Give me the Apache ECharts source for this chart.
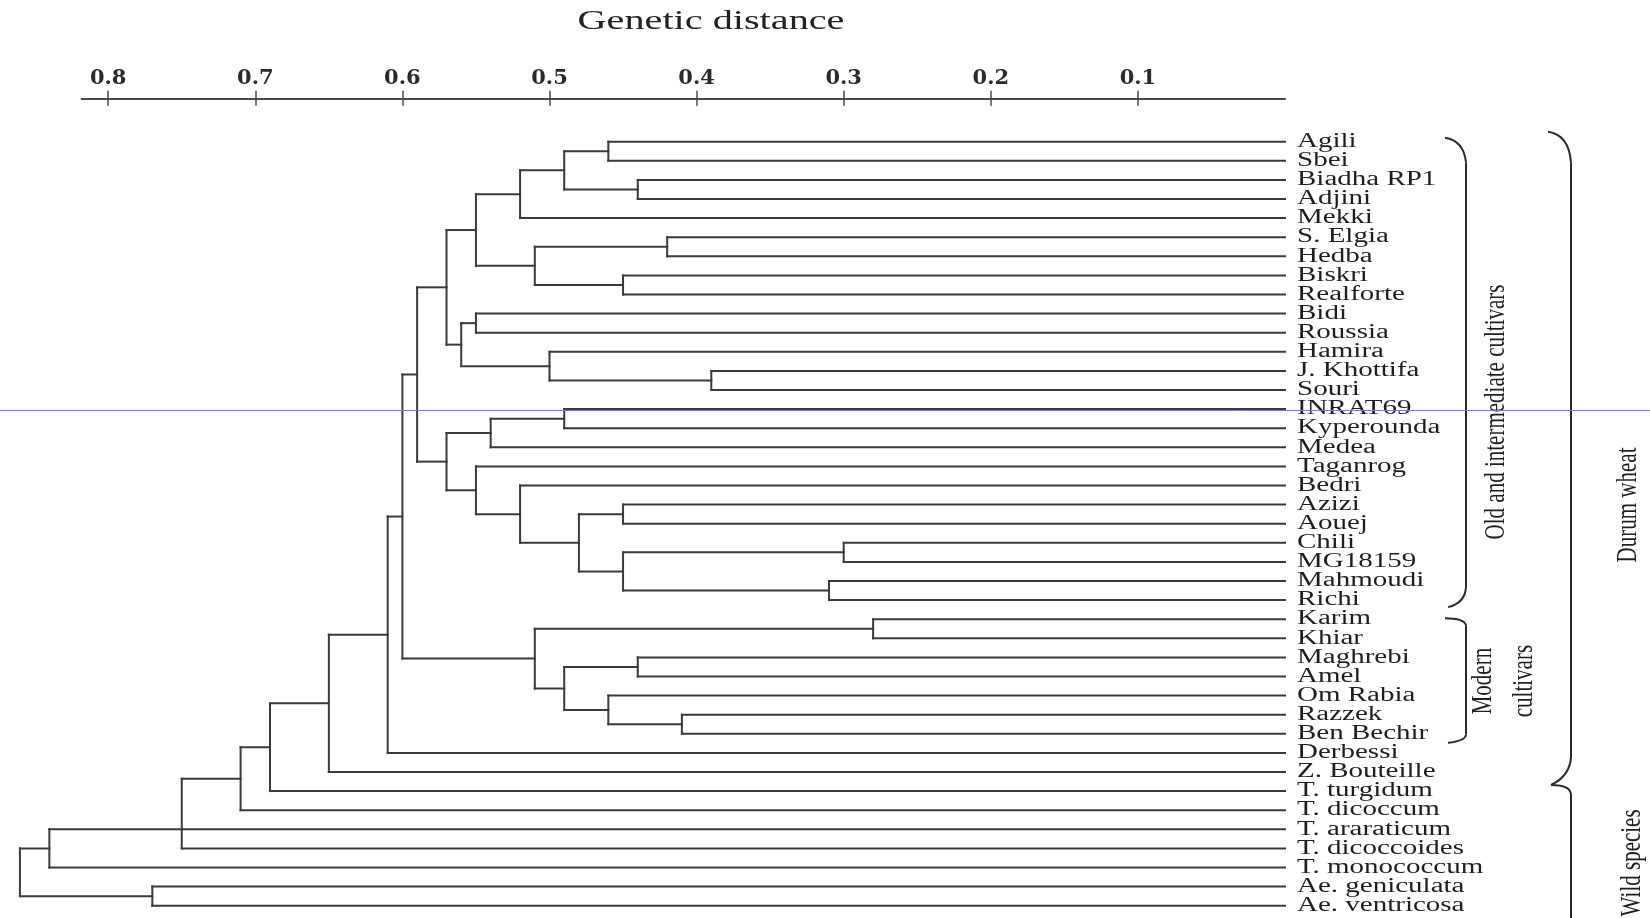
<!DOCTYPE html>
<html><head><meta charset="utf-8">
<script src="https://cdn.jsdelivr.net/npm/echarts@6/dist/echarts.min.js"></script>
<style>html,body{margin:0;padding:0;background:#fff}#c{width:1650px;height:918px}</style>
</head><body><div id="c"></div>
<script>
// ---------------- data ----------------
const axisTitle = 'Genetic distance';
const tickValues = [0.1, 0.2, 0.3, 0.4, 0.5, 0.6, 0.7, 0.8];
const leaves = ['Agili','Sbei','Biadha RP1','Adjini','Mekki','S. Elgia','Hedba','Biskri','Realforte','Bidi','Roussia','Hamira','J. Khottifa','Souri','INRAT69','Kyperounda','Medea','Taganrog','Bedri','Azizi','Aouej','Chili','MG18159','Mahmoudi','Richi','Karim','Khiar','Maghrebi','Amel','Om Rabia','Razzek','Ben Bechir','Derbessi','Z. Bouteille','T. turgidum','T. dicoccum','T. araraticum','T. dicoccoides','T. monococcum','Ae. geniculata','Ae. ventricosa'];
// merge i creates node "n<i>" from its children at distance mergeHeights[i]
const mergeChildren = [
  ['Agili','Sbei'], ['Biadha RP1','Adjini'], ['n0','n1'], ['n2','Mekki'],
  ['S. Elgia','Hedba'], ['Biskri','Realforte'], ['n4','n5'], ['n3','n6'],
  ['Bidi','Roussia'], ['J. Khottifa','Souri'], ['Hamira','n9'], ['n8','n10'],
  ['n7','n11'], ['INRAT69','Kyperounda'], ['n13','Medea'], ['Azizi','Aouej'],
  ['Chili','MG18159'], ['Mahmoudi','Richi'], ['n16','n17'], ['n15','n18'],
  ['Bedri','n19'], ['Taganrog','n20'], ['n14','n21'], ['n12','n22'],
  ['Karim','Khiar'], ['Maghrebi','Amel'], ['Razzek','Ben Bechir'], ['Om Rabia','n26'],
  ['n25','n27'], ['n24','n28'], ['n23','n29'], ['n30','Derbessi'],
  ['n31','Z. Bouteille'], ['n32','T. turgidum'], ['n33','T. dicoccum'],
  ['n34','T. araraticum','T. dicoccoides'], ['n35','T. monococcum'],
  ['Ae. geniculata','Ae. ventricosa'], ['n36','n37']
];
const mergeHeights = [0.46,0.44,0.49,0.52,0.42,0.45,0.51,0.55,0.55,0.39,0.50,0.56,0.57,0.49,0.54,0.45,0.30,0.31,0.45,0.48,0.52,0.55,0.57,0.59,0.28,0.44,0.41,0.46,0.49,0.51,0.60,0.61,0.65,0.69,0.71,0.75,0.84,0.77,0.86];
const groupLabels = ['Old and intermediate cultivars', 'Modern\ncultivars', 'Durum wheat', 'Wild species'];

// ---------------- tree geometry (data units) ----------------
const leafIndex = {};
leaves.forEach((n, i) => { leafIndex[n] = i; });
const nodeX = [], nodeY = [];
function posOf(id) {
  const m = /^n(\d+)$/.exec(id);
  if (m) { const k = +m[1]; return [nodeX[k], nodeY[k]]; }
  return [0, leafIndex[id]];
}
const segments = [];
mergeChildren.forEach((ch, i) => {
  const h = mergeHeights[i];
  const ps = ch.map(posOf);
  const ys = ps.map(p => p[1]).sort((a, b) => a - b);
  const y = ys.length % 2 === 1 ? ys[(ys.length - 1) / 2] : (ys[0] + ys[ys.length - 1]) / 2;
  nodeX[i] = h; nodeY[i] = y;
  segments.push([h, ys[0], h, ys[ys.length - 1]]);
  ps.forEach(p => segments.push([p[0], p[1], h, p[1]]));
});

// ---------------- chart ----------------
const LINE = '#3a3a3a';
const SERIF = '"Liberation Serif", "Times New Roman", serif';
const chart = echarts.init(document.getElementById('c'), null, { renderer: 'canvas' });

const option = {
  animation: false,
  backgroundColor: '#ffffff',
  grid: [
    { left: 81.7, right: 365, top: 97.7, height: 1 },
    { left: 5.23, right: 365, top: 141.7, height: 764 }
  ],
  xAxis: [
    { gridIndex: 0, type: 'value', inverse: true, min: 0, max: 0.818, position: 'top',
      axisLine: { show: true, lineStyle: { color: '#4a4a4a', width: 2 } },
      axisTick: { show: true, length: 8, customValues: tickValues, lineStyle: { color: '#4a4a4a', width: 1.5 } },
      axisLabel: { show: true, customValues: tickValues, margin: 9, fontFamily: 'DejaVu Serif', fontWeight: 'bold', fontSize: 21, color: '#2a2a2a',
        formatter: v => (+v).toFixed(1) },
      splitLine: { show: false } },
    { gridIndex: 0, type: 'value', inverse: true, min: 0, max: 0.818, position: 'bottom',
      axisLine: { show: false },
      axisTick: { show: true, length: 7, customValues: tickValues, lineStyle: { color: '#4a4a4a', width: 1.5 } },
      axisLabel: { show: false }, splitLine: { show: false } },
    { gridIndex: 1, type: 'value', inverse: true, min: 0, max: 0.87, show: false }
  ],
  yAxis: [
    { gridIndex: 0, type: 'value', show: false },
    { gridIndex: 1, type: 'value', inverse: true, min: 0, max: leaves.length - 1, show: false }
  ],
  graphic: [
    { type: 'text', x: 711, y: 21.6, scaleX: 1.49,
      style: { text: axisTitle, font: '27px ' + SERIF, fill: '#222', align: 'center', verticalAlign: 'middle' } },
    { type: 'line', shape: { x1: 0, y1: 410.5, x2: 1650, y2: 410.5 }, style: { stroke: '#7a7ae6', lineWidth: 1 }, z: 100 }
  ],
  series: [
    { type: 'custom', name: 'tree', xAxisIndex: 2, yAxisIndex: 1, data: segments,
      encode: { x: [0, 2], y: [1, 3] },
      renderItem: (params, api) => {
        const a = api.coord([api.value(0), api.value(1)]);
        const b = api.coord([api.value(2), api.value(3)]);
        return { type: 'line', shape: { x1: a[0], y1: a[1], x2: b[0], y2: b[1] },
          style: { stroke: LINE, lineWidth: 2, lineCap: 'square', fill: 'none' } };
      } },
    { type: 'custom', name: 'leaves', xAxisIndex: 2, yAxisIndex: 1,
      data: leaves.map((n, i) => [0, i]),
      renderItem: (params, api) => {
        const p = api.coord([api.value(0), api.value(1)]);
        return { type: 'text', x: p[0] + 12, y: p[1], scaleX: 1.45,
          style: { text: leaves[params.dataIndex], font: '20px ' + SERIF, fill: '#1e1e1e', align: 'left', verticalAlign: 'middle' } };
      } },
    { type: 'custom', name: 'groups', xAxisIndex: 2, yAxisIndex: 1,
      data: [[0, 0]],
      renderItem: (params, api) => {
        const x0 = api.coord([0, 0])[0];
        const yOf = i => api.coord([0, i])[1];
        const bx = x0 + 181, gx = x0 + 286;
        const st = { stroke: '#2a2a2a', lineWidth: 2, fill: 'none' };
        const ln = (x1, y1, x2, y2) => ({ type: 'line', shape: { x1, y1, x2, y2 }, style: st });
        const bz = (x1, y1, cpx1, cpy1, x2, y2) => ({ type: 'bezierCurve', shape: { x1, y1, cpx1, cpy1, x2, y2 }, style: st });
        const txt = (s, x, y) => ({ type: 'text', x, y, rotation: Math.PI / 2, scaleY: 1.45,
          style: { text: s, font: '21px ' + SERIF, fill: '#1e1e1e', align: 'center', verticalAlign: 'middle', lineHeight: 28 } });
        return { type: 'group', children: [
          // old & intermediate cultivars
          bz(x0 + 160, yOf(0) - 4, bx - 2, yOf(0) - 1, bx, yOf(0) + 21),
          ln(bx, yOf(0) + 21, bx, yOf(24) - 13),
          bz(bx, yOf(24) - 13, bx - 1, yOf(24) + 3, x0 + 163, yOf(24) + 7),
          // modern cultivars
          bz(x0 + 160, yOf(25) - 1, bx - 2, yOf(25) - 1, bx, yOf(25) + 6),
          ln(bx, yOf(25) + 6, bx, yOf(31) + 1),
          bz(bx, yOf(31) + 1, bx - 1, yOf(31) + 7, x0 + 163, yOf(31) + 9),
          // durum wheat / wild species
          bz(x0 + 263, yOf(0) - 10, gx - 2, yOf(0) - 7, gx, yOf(0) + 21),
          ln(gx, yOf(0) + 21, gx, yOf(32) + 4),
          bz(gx, yOf(32) + 4, gx - 1, yOf(33) + 4, x0 + 266, yOf(33) + 13),
          bz(x0 + 266, yOf(33) + 13, gx, yOf(33) + 13, gx, yOf(34) + 4),
          ln(gx, yOf(34) + 4, gx, yOf(40) + 30),
          txt(groupLabels[0], x0 + 211, yOf(14.15)),
          txt(groupLabels[1], x0 + 218.5, yOf(28.24)),
          txt(groupLabels[2], x0 + 343, yOf(19.02)),
          txt(groupLabels[3], x0 + 347, yOf(37.76))
        ] };
      } }
  ]
};
chart.setOption(option);
</script>
</body></html>
